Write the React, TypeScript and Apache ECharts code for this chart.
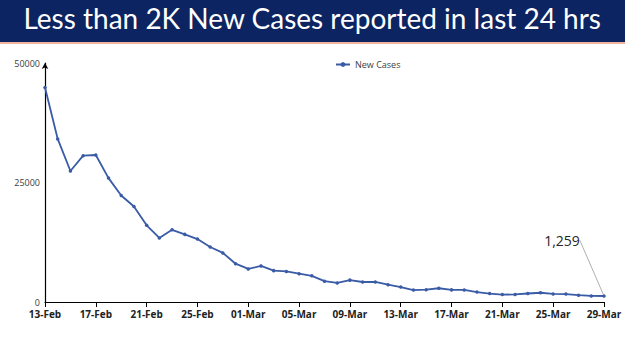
import React, { useEffect, useRef } from "react";
import * as echarts from "echarts";

const titleText = "Less than 2K New Cases reported in last 24 hrs";
const seriesName = "New Cases";
const dates = [
  "13-Feb","14-Feb","15-Feb","16-Feb","17-Feb","18-Feb","19-Feb","20-Feb","21-Feb","22-Feb","23-Feb","24-Feb","25-Feb","26-Feb","27-Feb","28-Feb",
  "01-Mar","02-Mar","03-Mar","04-Mar","05-Mar","06-Mar","07-Mar","08-Mar","09-Mar","10-Mar","11-Mar","12-Mar","13-Mar","14-Mar","15-Mar",
  "16-Mar","17-Mar","18-Mar","19-Mar","20-Mar","21-Mar","22-Mar","23-Mar","24-Mar","25-Mar","26-Mar","27-Mar","28-Mar","29-Mar",
];
const newCases = [
  44877, 34113, 27409, 30615, 30757, 25920, 22270, 19968, 16051, 13405, 15102, 14148, 13166, 11499, 10273, 8013,
  6915, 7554, 6561, 6396, 5921, 5476, 4362, 3993, 4575, 4184, 4194, 3614, 3116, 2503, 2568,
  2876, 2539, 2528, 2075, 1761, 1549, 1581, 1778, 1938, 1685, 1660, 1421, 1270, 1259,
];
const yTicks = [0, 25000, 50000];

export default function App() {
  const ref = useRef<HTMLDivElement>(null);
  useEffect(() => {
    if (!ref.current) return;
    const chart = echarts.init(ref.current, null, { renderer: "svg" });
    const last = newCases.length - 1;
    chart.setOption({
      animation: false,
      backgroundColor: "#ffffff",
      graphic: [
        { type: "rect", left: 0, top: 0, shape: { width: 625, height: 42 }, style: { fill: "#0c2462" } },
        { type: "rect", left: 0, top: 42, shape: { width: 625, height: 2 }, style: { fill: "#f0b49a" } },
        {
          type: "text",
          left: "center",
          top: 4,
          style: {
            text: titleText,
            fill: "#ffffff",
            font: "28px 'Lato', 'Open Sans', sans-serif",
          },
        },
      ],
      legend: {
        data: [seriesName],
        top: 55,
        left: 330,
        itemWidth: 14,
        itemHeight: 6,
        itemGap: 4,
        textStyle: { fontSize: 9, color: "#404040", fontFamily: "'Open Sans', sans-serif" },
      },
      grid: { left: 45, right: 21, top: 63, bottom: 49, containLabel: false },
      xAxis: {
        type: "category",
        data: dates,
        boundaryGap: false,
        axisLine: { lineStyle: { color: "#000000", width: 1 } },
        axisTick: { show: true, interval: 3, length: 5, lineStyle: { color: "#000000" } },
        axisLabel: {
          interval: 3,
          fontSize: 10,
          fontWeight: "bold",
          color: "#222222",
          margin: 7,
          fontFamily: "'Open Sans', sans-serif",
        },
        splitLine: { show: false },
      },
      yAxis: {
        type: "value",
        min: yTicks[0],
        max: yTicks[yTicks.length - 1],
        interval: yTicks[1] - yTicks[0],
        axisLine: {
          show: true,
          symbol: ["none", "arrow"],
          symbolSize: [5, 6],
          lineStyle: { color: "#000000", width: 1.2 },
        },
        axisTick: { show: false },
        splitLine: { show: false },
        axisLabel: {
          fontSize: 9,
          color: "#404040",
          margin: 5,
          fontFamily: "'Open Sans', sans-serif",
          formatter: (v: number) => String(v),
        },
      },
      series: [
        {
          name: seriesName,
          type: "line",
          data: newCases.map((v, i) =>
            i === last
              ? {
                  value: v,
                  label: {
                    show: true,
                    position: "top",
                    formatter: (p: any) => p.value.toLocaleString("en-US"),
                    fontSize: 14,
                    color: "#262626",
                    fontFamily: "'Open Sans', sans-serif",
                  },
                  labelLine: { show: true, lineStyle: { color: "#b0b0b0", width: 1 } },
                }
              : v
          ),
          symbol: "circle",
          symbolSize: 3.5,
          showSymbol: true,
          itemStyle: { color: "#3a5ba6" },
          lineStyle: { color: "#3a5ba6", width: 1.8 },
          labelLayout: (params: any) =>
            params.dataIndex === last ? { dx: -42, dy: -42 } : {},
          labelLine: { show: false },
        },
      ],
    });
    return () => chart.dispose();
  }, []);
  return <div ref={ref} style={{ width: 625, height: 351, position: "absolute", left: 0, top: 0 }} />;
}
